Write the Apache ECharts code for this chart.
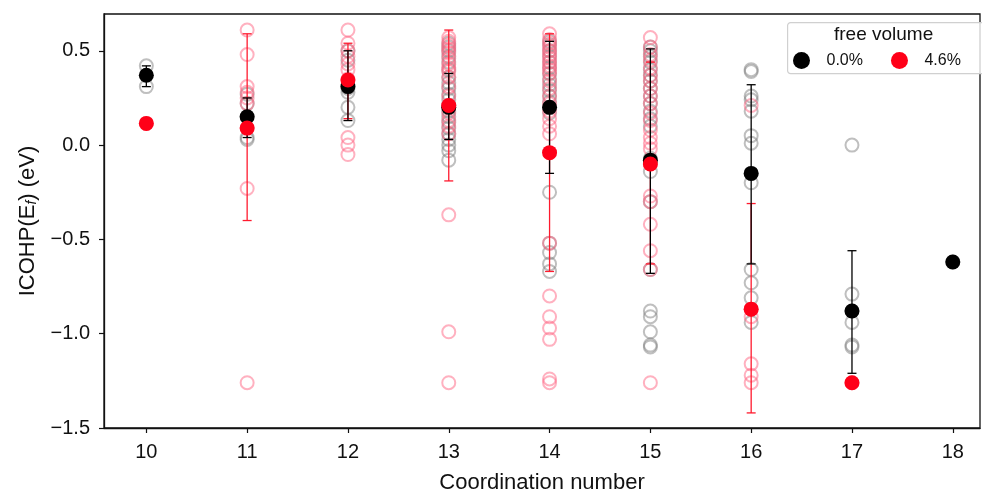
<!DOCTYPE html>
<html>
<head>
<meta charset="utf-8">
<script src="https://cdn.jsdelivr.net/npm/echarts@6/dist/echarts.min.js"></script>
<style>
  html, body { margin: 0; padding: 0; background: #fff; }
  #main { width: 982px; height: 490px; }
</style>
</head>
<body>
<div id="main"></div>
<script>
// 配位数（x軸）
const coordination = [10, 11, 12, 13, 14, 15, 16, 17, 18];
const yTicks = [-1.5, -1.0, -0.5, 0.0, 0.5];

// 個々の値（白抜き円）: free volume 0.0%
const grayByCn = [
  [0.42, 0.31],
  [0.27, 0.22, 0.15, 0.04, 0.03],
  [0.50, 0.45, 0.30, 0.28, 0.20, 0.13],
  [0.54, 0.52, 0.50, 0.47, 0.44, 0.40, 0.36, 0.33, 0.30, 0.27, 0.24, 0.21, 0.18, 0.15, 0.12, 0.09, 0.06, 0.03, 0.0, -0.03, -0.08],
  [0.55, 0.53, 0.50, 0.47, 0.44, 0.41, 0.38, 0.35, 0.32, 0.29, 0.26, 0.23, 0.20, 0.17, -0.25, -0.52, -0.57, -0.63, -0.67],
  [0.52, 0.50, 0.47, 0.44, 0.40, 0.37, 0.34, 0.30, 0.26, 0.22, 0.18, 0.14, 0.10, -0.07, -0.14, -0.30, -0.66, -0.88, -0.91, -0.99, -1.06, -1.07],
  [0.40, 0.39, 0.26, 0.24, 0.18, 0.05, 0.01, -0.15, -0.20, -0.66, -0.73, -0.81, -0.94],
  [0.0, -0.79, -0.88, -0.94, -1.06, -1.07],
  [-0.62]
];

// 個々の値（白抜き円）: free volume 4.6%
const pinkByCn = [
  [0.115],
  [0.61, 0.48, 0.31, 0.28, 0.25, 0.22, 0.09, -0.23, -1.26],
  [0.61, 0.54, 0.50, 0.47, 0.43, 0.40, 0.35, 0.04, 0.0, -0.05],
  [0.57, 0.55, 0.53, 0.51, 0.49, 0.46, 0.43, 0.41, 0.39, 0.36, 0.31, 0.26, 0.21, 0.17, 0.13, 0.10, 0.06, -0.37, -0.99, -1.26],
  [0.59, 0.56, 0.54, 0.52, 0.50, 0.48, 0.46, 0.44, 0.42, 0.40, 0.38, 0.34, 0.30, 0.26, 0.22, 0.18, 0.14, 0.10, 0.06, -0.52, -0.80, -0.91, -0.97, -1.03, -1.24, -1.26],
  [0.57, 0.52, 0.48, 0.45, 0.41, 0.37, 0.34, 0.30, 0.26, 0.22, 0.17, 0.13, 0.08, 0.04, 0.01, -0.02, -0.10, -0.27, -0.30, -0.42, -0.56, -0.66, -1.26],
  [0.21, -0.87, -0.91, -1.16, -1.22, -1.26],
  [-1.26],
  []
];

// 平均値とエラーバー
const blackMean = [0.37, 0.15, 0.31, 0.20, 0.20, -0.08, -0.15, -0.88, -0.62];
const blackLow  = [0.31, 0.04, 0.13, 0.03, -0.15, -0.68, -0.63, -1.21, null];
const blackHigh = [0.42, 0.25, 0.50, 0.38, 0.55, 0.51, 0.32, -0.56, null];

const redMean = [0.115, 0.09, 0.345, 0.21, -0.04, -0.10, -0.87, -1.26, null];
const redLow  = [null, -0.40, 0.14, -0.19, -0.67, -0.63, -1.42, null, null];
const redHigh = [null, 0.59, 0.54, 0.61, 0.59, 0.44, -0.31, null, null];

const FONT = 'Liberation Sans, Arial, sans-serif';

function points(byCn) {
  const out = [];
  byCn.forEach((vals, i) => vals.forEach(v => out.push([coordination[i], v])));
  return out;
}
function means(arr) {
  return coordination.map((c, i) => arr[i] == null ? null : [c, arr[i]]).filter(d => d);
}
function bars(low, high) {
  return coordination.map((c, i) => low[i] == null ? null : [c, low[i], high[i]]).filter(d => d);
}
function errorBarSeries(data, color, z) {
  return {
    type: 'custom',
    z: z,
    data: data,
    encode: { x: 0, y: [1, 2] },
    silent: true,
    renderItem: function (params, api) {
      const x = api.value(0);
      const top = api.coord([x, api.value(2)]);
      const bot = api.coord([x, api.value(1)]);
      const w = 4.5;
      const st = { stroke: color, lineWidth: 1.3 };
      return {
        type: 'group',
        children: [
          { type: 'line', shape: { x1: top[0], y1: top[1], x2: bot[0], y2: bot[1] }, style: st },
          { type: 'line', shape: { x1: top[0] - w, y1: top[1], x2: top[0] + w, y2: top[1] }, style: st },
          { type: 'line', shape: { x1: bot[0] - w, y1: bot[1], x2: bot[0] + w, y2: bot[1] }, style: st }
        ]
      };
    }
  };
}

const fmtY = v => (v < 0 ? '\u2212' : '') + Math.abs(v).toFixed(1);

const chart = echarts.init(document.getElementById('main'));
chart.setOption({
  animation: false,
  backgroundColor: '#fff',
  textStyle: { fontFamily: FONT },
  grid: {
    left: 104, top: 14, right: 2, bottom: 62,
    outerBoundsMode: 'none',
    containLabel: false,
    show: true, borderColor: '#111', borderWidth: 1.3, backgroundColor: 'transparent'
  },
  xAxis: {
    type: 'value',
    min: 9.58, max: 18.27,
    name: 'Coordination number',
    nameLocation: 'middle',
    nameGap: 44,
    nameTextStyle: { fontSize: 22, color: '#111', fontFamily: FONT },
    axisLine: { onZero: false, lineStyle: { color: '#111', width: 1.3 } },
    axisTick: { length: 5, lineStyle: { color: '#111', width: 1.2 }, customValues: coordination },
    axisLabel: { fontSize: 20, color: '#111', margin: 14, fontFamily: FONT, customValues: coordination },
    splitLine: { show: false }
  },
  yAxis: {
    type: 'value',
    min: -1.5, max: 0.695,
    name: 'ICOHP(E{s|f}) (eV)',
    nameLocation: 'middle',
    nameGap: 65,
    nameRotate: 90,
    nameTextStyle: {
      fontSize: 22, color: '#111', fontFamily: FONT,
      rich: { s: { fontSize: 14, fontStyle: 'italic', verticalAlign: 'bottom', fontFamily: FONT, color: '#111' } }
    },
    axisLine: { show: true, onZero: false, lineStyle: { color: '#111', width: 1.3 } },
    axisTick: { show: true, length: 5, lineStyle: { color: '#111', width: 1.2 }, customValues: yTicks },
    axisLabel: { fontSize: 20, color: '#111', margin: 14, fontFamily: FONT, customValues: yTicks, formatter: fmtY },
    splitLine: { show: false }
  },
  legend: {
    data: ['0.0%', '4.6%'],
    left: 788, top: 47,
    z: 60,
    icon: 'circle',
    itemWidth: 40, itemHeight: 17,
    itemGap: 28,
    textStyle: { fontSize: 16, color: '#111', fontFamily: FONT }
  },
  graphic: [
    {
      type: 'rect', left: 787, top: 22, z: 50,
      shape: { width: 210, height: 51, r: 3 },
      style: { fill: 'rgba(255,255,255,0.8)', stroke: '#d0d0d0', lineWidth: 1.2 }
    },
    {
      type: 'text', left: 834, top: 25, z: 51,
      style: { text: 'free volume', fontSize: 19, fill: '#111', fontFamily: FONT }
    }
  ],
  series: [
    {
      name: 'all 0.0%', type: 'scatter', z: 2,
      symbol: 'circle', symbolSize: 13,
      itemStyle: { color: 'transparent', borderColor: 'rgba(128,128,128,0.5)', borderWidth: 2, opacity: 1 },
      data: points(grayByCn)
    },
    {
      name: 'all 4.6%', type: 'scatter', z: 3,
      symbol: 'circle', symbolSize: 13,
      itemStyle: { color: 'transparent', borderColor: 'rgba(255,100,130,0.5)', borderWidth: 2, opacity: 1 },
      data: points(pinkByCn)
    },
    errorBarSeries(bars(redLow, redHigh), '#ff1a2e', 4),
    errorBarSeries(bars(blackLow, blackHigh), '#000', 5),
    {
      name: '0.0%', type: 'scatter', z: 6,
      symbol: 'circle', symbolSize: 15,
      itemStyle: { color: '#000', opacity: 1 },
      data: means(blackMean)
    },
    {
      name: '4.6%', type: 'scatter', z: 7,
      symbol: 'circle', symbolSize: 15,
      itemStyle: { color: '#ff0018', opacity: 1 },
      data: means(redMean)
    }
  ]
});
</script>
</body>
</html>
